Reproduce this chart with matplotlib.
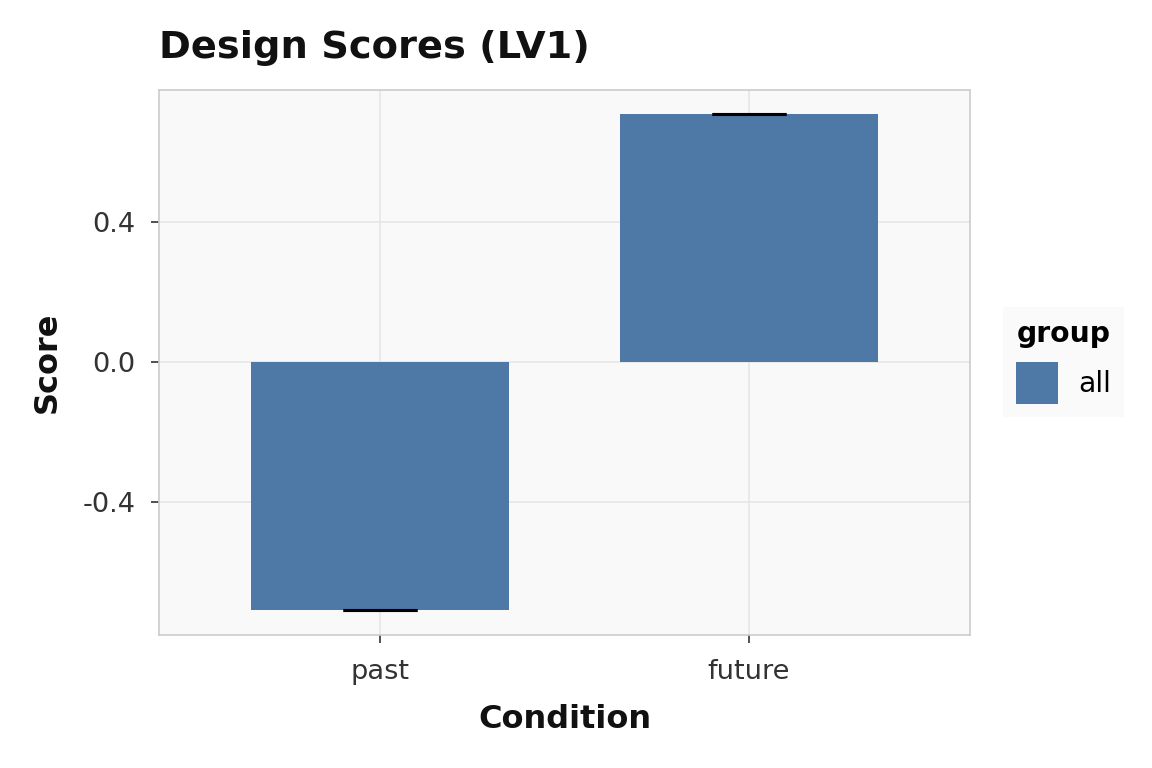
import matplotlib
matplotlib.use("Agg")
import matplotlib.pyplot as plt
from matplotlib.patches import Patch

conditions = ["past", "future"]
scores = [-0.709, 0.709]
errors = [0.0, 0.0]
group_name = "all"
yticks = [-0.4, 0.0, 0.4]
ytick_labels = ["-0.4", "0.0", "0.4"]

bar_color = "#4e79a7"

fig = plt.figure(figsize=(5.76, 3.84), dpi=200)
ax = fig.add_axes([159/1152, 1 - 635/768, (970-159)/1152, (635-90)/768])
ax.set_facecolor("#f9f9f9")
fig.patch.set_facecolor("white")

x = list(range(len(conditions)))
ax.bar(x, scores, width=0.7, color=bar_color, zorder=2)
ax.errorbar(x, scores, yerr=errors, fmt="none", ecolor="black", elinewidth=1.0,
            capsize=13.3, capthick=1.1, zorder=3)

ax.set_xlim(-0.6, 1.6)
ax.set_ylim(-0.78, 0.777)
ax.set_xticks(x)
ax.set_xticklabels(conditions)
ax.set_yticks(yticks)
ax.set_yticklabels(ytick_labels)
ax.grid(True, color="#e6e6e6", linewidth=0.6, zorder=0)
ax.set_axisbelow(True)
for s in ax.spines.values():
    s.set_color("#cccccc")
    s.set_linewidth(0.6)
ax.tick_params(axis="both", labelsize=9.8, colors="#333333", length=3, width=0.6, pad=5.5)

ax.set_xlabel("Condition", fontsize=11.5, fontweight="bold", color="#111111", labelpad=7)
ax.set_ylabel("Score", fontsize=11.5, fontweight="bold", color="#111111", labelpad=7)
fig.text(159/1152, 1 - 48/768, "Design Scores (LV1)", fontsize=13.8, fontweight="bold",
         color="#111111", va="center", ha="left")

handle = Patch(facecolor=bar_color, edgecolor="none", label=group_name)
leg = fig.legend(handles=[handle], title="group", loc="center left",
                 bbox_to_anchor=(1003/1152, 1 - 362/768), frameon=True,
                 fontsize=10.2, title_fontsize=10.2, handlelength=1.5, handleheight=1.9,
                 borderpad=0.45, handletextpad=0.7, borderaxespad=0)
leg.get_frame().set_facecolor("#f9f9f9")
leg.get_frame().set_edgecolor("none")
leg.get_frame().set_boxstyle("square", pad=0)
leg.get_title().set_fontweight("bold")

fig.savefig("out.png", dpi=200)
